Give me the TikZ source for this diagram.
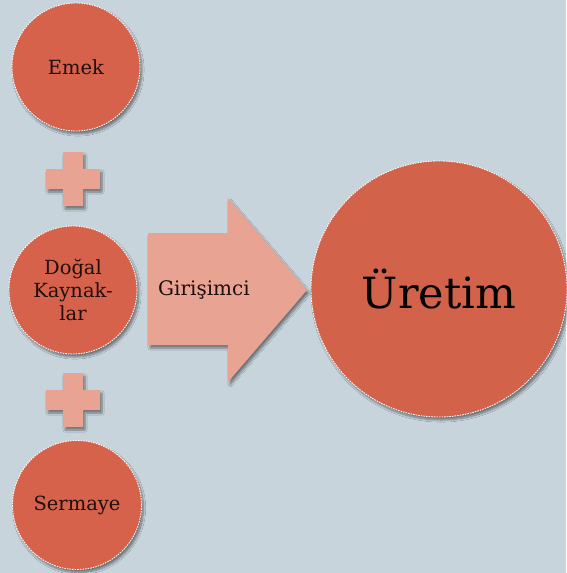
\documentclass[tikz,border=0pt]{standalone}
\usepackage{fontspec}
\setmainfont{DejaVu Serif}
\usetikzlibrary{shadows.blur}
\definecolor{bg}{HTML}{C7D4DC}
\definecolor{circ}{HTML}{D6624B}
\definecolor{bigcirc}{HTML}{D3624A}
\definecolor{salmon}{HTML}{E8A392}
\definecolor{ink}{HTML}{1E0E0C}
\tikzset{
  shad/.style={blur shadow={shadow xshift=2pt, shadow yshift=-3pt, shadow blur steps=8, shadow opacity=45}},
  ball/.style={circle, inner sep=0pt, fill=circ, draw=white!92!pink, line width=0.9pt,
    dash pattern=on 1.6pt off 1pt, text=ink, align=center, shad,
    font=\fontsize{19.5}{23}\selectfont},
  plusfill/.style={fill=salmon, shad},
}
\begin{document}
\begin{tikzpicture}[x=1pt,y=-1pt]
\useasboundingbox (0,0) rectangle (566,573);
\fill[bg] (0,0) rectangle (566,573);
% plus signs
\coordinate (p1) at (73,179);
\coordinate (p2) at (73,400);
\foreach \p in {p1,p2}{
  \fill[plusfill] ([shift={(-10,-27)}]\p) -- ([shift={(10,-27)}]\p) -- ([shift={(10,-10)}]\p)
    -- ([shift={(27,-10)}]\p) -- ([shift={(27,10)}]\p) -- ([shift={(10,10)}]\p)
    -- ([shift={(10,27)}]\p) -- ([shift={(-10,27)}]\p) -- ([shift={(-10,10)}]\p)
    -- ([shift={(-27,10)}]\p) -- ([shift={(-27,-10)}]\p) -- ([shift={(-10,-10)}]\p) -- cycle;
}
% arrow
\fill[plusfill] (148,233) -- (228,233) -- (228,198) -- (307,290) -- (228,382) -- (228,345) -- (148,345) -- cycle;
\node[text=ink, font=\fontsize{20}{23}\selectfont] (gir) at (204,290) {Girişimci};
% circles
\node[ball, minimum size=128pt] (emek) at (76,67) {Emek};
\node[ball, minimum size=128pt] (dogal) at (73,290) {Doğal\\Kaynak-\\lar};
\node[ball, minimum size=129pt] (sermaye) at (77,505) {Sermaye};
\node[ball, fill=bigcirc, minimum size=256pt, font=\fontsize{43}{50}\selectfont, text=black] (uretim) at (439,289) {Üretim};
\end{tikzpicture}
\end{document}
